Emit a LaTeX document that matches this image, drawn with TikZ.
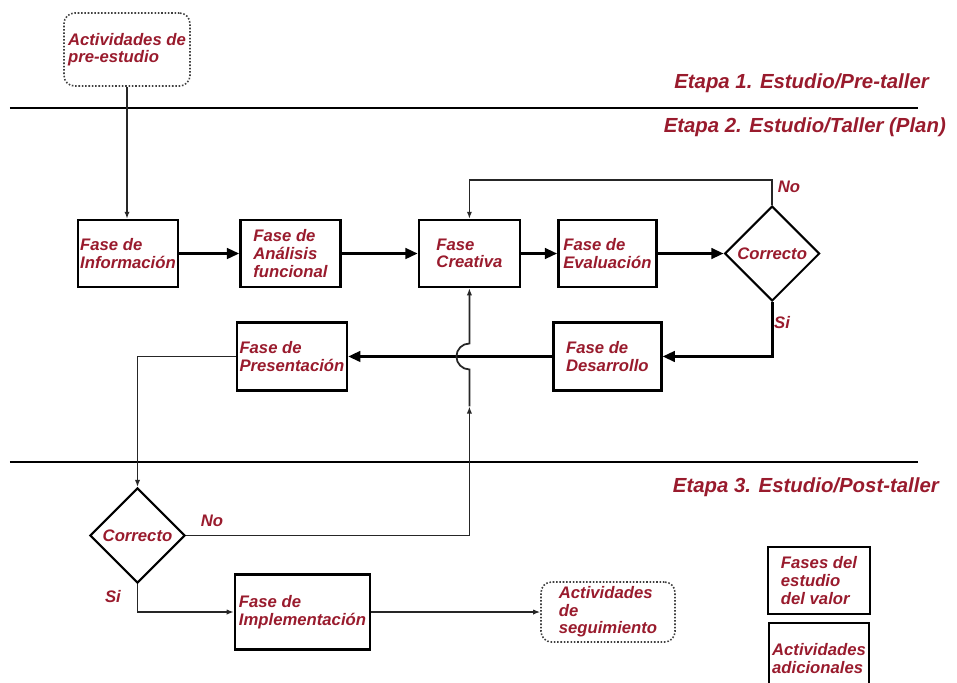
\documentclass[tikz,border=0pt]{standalone}
\usepackage{fontspec}
\setmainfont{Liberation Sans}
\usepackage{xcolor}
\usepackage{tikz}
\usetikzlibrary{shapes.geometric,arrows.meta,positioning,calc}

\definecolor{fasered}{RGB}{153,27,45}

\begin{document}
\begin{tikzpicture}[
    node distance=1.2cm,
    fase/.style={rectangle, draw=black, line width=1.4pt, fill=white, align=left, inner sep=0.5pt, minimum width=2.0cm, minimum height=1.34cm, text=fasered, font=\fontsize{9.5}{10}\selectfont\bfseries\itshape},
    extra/.style={rectangle, draw=black!75, densely dotted, line width=0.9pt, rounded corners=6pt, fill=white, align=left, inner sep=0.5pt, text=fasered, font=\fontsize{9.5}{10}\selectfont\bfseries\itshape},
    decision/.style={diamond, draw=black, line width=1.2pt, fill=white, inner sep=0pt, minimum width=1.9cm, minimum height=1.9cm, text=fasered, font=\fontsize{9.5}{10}\selectfont\bfseries\itshape},
    etapa/.style={anchor=base east, text=fasered, font=\fontsize{11.6}{13}\selectfont\bfseries\itshape},
    tag/.style={text=fasered, font=\fontsize{9.5}{10}\selectfont\bfseries\itshape},
    arrow/.style={-{Triangle[length=7pt,width=6pt]}, line width=1.6pt},
    thinarrow/.style={-{Latex[length=4pt,width=3pt]}, line width=1pt, draw=black!85},
    stage/.style={line width=1.1pt}
]
    \useasboundingbox (0,0) rectangle (19.14,-13.64);

    % etapas
    \draw [stage] (0.2,-2.16) -- (18.36,-2.16);
    \draw [stage] (0.2,-9.24) -- (18.36,-9.24);
    \node [etapa] (et1) at (18.7,-1.76) {Etapa 1. Estudio/Pre-taller};
    \node [etapa] (et2) at (19.04,-2.64) {Etapa 2. Estudio/Taller (Plan)};
    \node [etapa] (et3) at (18.9,-9.84) {Etapa 3. Estudio/Post-taller};

    % fases
    \node [extra, minimum width=2.52cm, minimum height=1.46cm] (pre) at (2.54,-0.99) {Actividades de\\pre-estudio};
    \node [fase] (info) at (2.56,-5.07) {Fase de\\Información};
    \node [fase, right=1.2cm of info] (anal) {Fase de\\Análisis\\funcional};
    \node [fase, right=1.52cm of anal, minimum width=2.02cm] (crea) {Fase\\Creativa};
    \node [fase, right=0.72cm of crea, minimum width=1.96cm] (eval) {Fase de\\Evaluación};
    \node [decision, right=1.32cm of eval] (dec1) {Correcto};
    \node [fase, below=0.66cm of eval, minimum width=2.16cm, minimum height=1.36cm] (desa) {Fase de\\Desarrollo};
    \node [fase, left=4.08cm of desa, minimum width=2.2cm, minimum height=1.36cm] (pres) {Fase de\\Presentación};
    \node [decision] (dec2) at (2.75,-10.71) {Correcto};
    \node [fase, minimum width=2.7cm, minimum height=1.5cm] (impl) at (6.05,-12.24) {Fase de\\Implementación};
    \node [extra, right=3.38cm of impl, minimum width=2.68cm, minimum height=1.2cm] (segu) {Actividades\\de\\seguimiento};

    % leyenda
    \node [fase, line width=1.6pt, minimum width=2.04cm, minimum height=1.34cm] (leg1) at (16.38,-11.61) {Fases del\\estudio\\del valor};
    \node [fase, line width=1pt, below=0.14cm of leg1, minimum height=1.4cm] (leg2) {Actividades\\adicionales};

    % etiquetas
    \node [tag] (no1) at (15.78,-3.74) {No};
    \node [tag] (si1) at (15.64,-6.46) {Si};
    \node [tag] (no2) at (4.24,-10.42) {No};
    \node [tag] (si2) at (2.26,-11.94) {Si};

    % flujo
    \draw [thinarrow] (pre.south) -- (pre.south |- info.north);
    \draw [arrow] (info) -- (anal);
    \draw [arrow] (anal) -- (crea);
    \draw [arrow] (crea) -- (eval);
    \draw [arrow] (eval) -- (dec1);
    \draw [thinarrow] (dec1.north) |- ($(crea.north)+(0,0.78)$) -- (crea.north);
    \draw [arrow] (dec1.south) |- (desa.east);
    \draw [arrow] (desa) -- (pres);
    \draw [thinarrow] (pres.west) -| (dec2.north);
    \coordinate (hop) at (crea.south |- desa.west);
    \coordinate (mid) at ([yshift=-1.0cm]hop);
    \draw [thinarrow] (dec2.east) -| (mid);
    \draw [thinarrow] (mid) -- ([yshift=-0.26cm]hop) arc[start angle=270, end angle=90, radius=0.26cm] -- (crea.south);
    \draw [thinarrow] (dec2.south) |- (impl.west);
    \draw [thinarrow] (impl) -- (segu);
\end{tikzpicture}
\end{document}
